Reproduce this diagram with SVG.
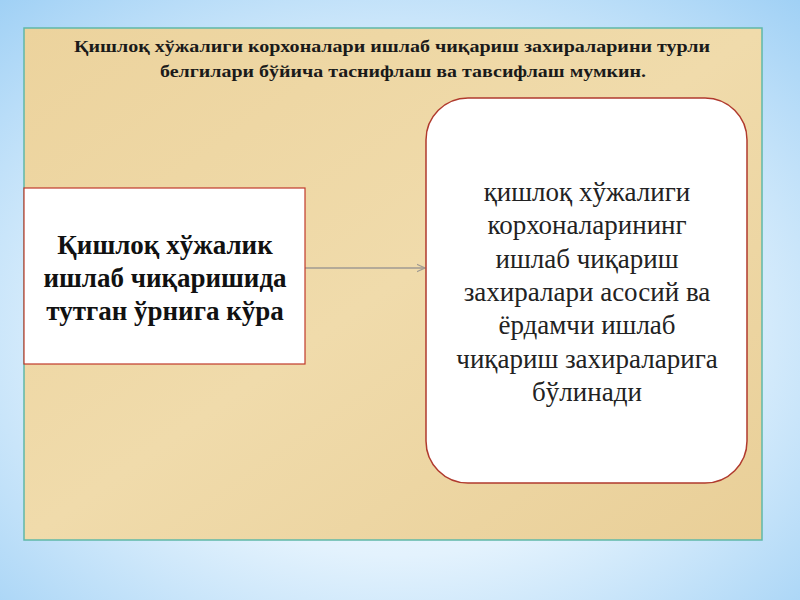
<svg xmlns="http://www.w3.org/2000/svg" width="800" height="600" viewBox="0 0 800 600">
<defs>
<radialGradient id="bg" cx="0.5" cy="0.55" r="0.75">
<stop offset="0" stop-color="#ffffff"/>
<stop offset="0.5" stop-color="#e3f2fd"/>
<stop offset="1" stop-color="#9fd0f5"/>
</radialGradient>
<linearGradient id="tan" x1="0" y1="0" x2="1" y2="1">
<stop offset="0" stop-color="#ecd39d"/>
<stop offset="0.5" stop-color="#f0dbab"/>
<stop offset="1" stop-color="#e9cf98"/>
</linearGradient>
<marker id="arr" viewBox="0 0 10 10" refX="9" refY="5" markerWidth="7" markerHeight="7" orient="auto">
<path d="M0,1 L9,5 L0,9" fill="none" stroke="#a09a92" stroke-width="1.3"/>
</marker>
<style>
.title{font-family:"Liberation Serif","DejaVu Serif",serif;font-weight:bold;font-size:17px;fill:#1a1a1a;text-anchor:middle}
.lt{font-family:"Liberation Serif","DejaVu Serif",serif;font-weight:bold;font-size:27px;fill:#111;text-anchor:middle}
.rt{font-family:"Liberation Serif","DejaVu Serif",serif;font-size:27px;fill:#222;text-anchor:middle}
.conn{stroke:#a09a92;stroke-width:1.3;fill:none}
</style>
</defs>
<rect width="800" height="600" fill="url(#bg)"/>
<rect x="24" y="28" width="738" height="512" fill="url(#tan)" stroke="#5fb8a8" stroke-width="1.5"/>
<g id="title">
<text class="title" x="392" y="52" textLength="636" lengthAdjust="spacingAndGlyphs">Қишлоқ хўжалиги корхоналари ишлаб чиқариш захираларини турли</text>
<text class="title" x="403" y="77" textLength="486" lengthAdjust="spacingAndGlyphs">белгилари бўйича таснифлаш ва тавсифлаш мумкин.</text>
</g>
<g id="connectors">
<line class="conn" x1="305" y1="268" x2="425" y2="268" marker-end="url(#arr)"/>
</g>
<g id="node-left">
<rect x="24" y="188" width="281" height="176" fill="#ffffff" stroke="#c0392b" stroke-width="1.2"/>
<text class="lt" x="165" y="254">Қишлоқ хўжалик</text>
<text class="lt" x="165" y="287">ишлаб чиқаришида</text>
<text class="lt" x="165" y="320">тутган ўрнига кўра</text>
</g>
<g id="node-right">
<rect x="426" y="98" width="321" height="385" rx="42" ry="42" fill="#ffffff" stroke="#b03a2e" stroke-width="1.5"/>
<text class="rt" x="587" y="201">қишлоқ хўжалиги</text>
<text class="rt" x="587" y="234">корхоналарининг</text>
<text class="rt" x="587" y="268">ишлаб чиқариш</text>
<text class="rt" x="587" y="301">захиралари асосий ва</text>
<text class="rt" x="587" y="334">ёрдамчи ишлаб</text>
<text class="rt" x="587" y="368">чиқариш захираларига</text>
<text class="rt" x="587" y="401">бўлинади</text>
</g>
</svg>
